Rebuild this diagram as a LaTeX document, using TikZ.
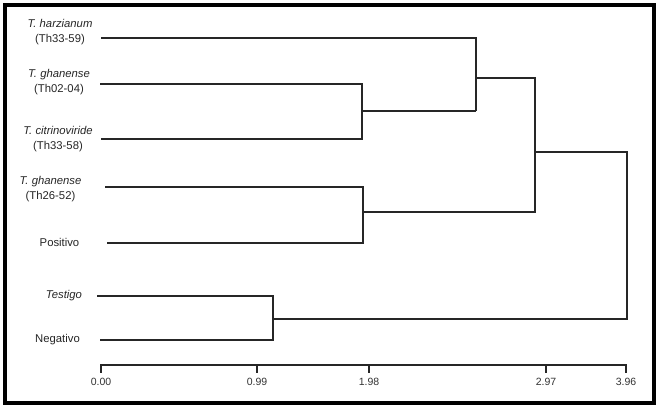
\documentclass[tikz,border=0pt]{standalone}
\usepackage{fontspec}
\setmainfont{Liberation Sans}
\begin{document}
\begin{tikzpicture}[x=1bp,y=-1bp,
  lbl/.style={align=center,inner sep=0pt,font=\fontsize{11.3bp}{15bp}\selectfont,text=black!85},
  ax/.style={inner sep=0pt,font=\fontsize{10.5bp}{12bp}\selectfont,text=black!80},
  br/.style={line width=1.3bp,draw=black!85},
  frame/.style={line width=4bp,draw=black}]
\useasboundingbox (0,0) rectangle (659,408);
\fill[white] (0,0) rectangle (659,408);
\draw[frame] (5.3,5.3) rectangle (653.7,402.5);

% leaf labels
\node[lbl] (l1) at (60,32) {\textit{T. harzianum}\\(Th33-59)};
\node[lbl] (l2) at (59,82.5) {\textit{T. ghanense}\\(Th02-04)};
\node[lbl] (l3) at (58,139) {\textit{T. citrinoviride}\\(Th33-58)};
\node[lbl] (l4) at (50.5,189) {\textit{T. ghanense}\\(Th26-52)};
\node[lbl] (l5) at (59.5,242) {Positivo};
\node[lbl] (l6) at (64,296) {\textit{Testigo}};
\node[lbl] (l7) at (57.5,339.5) {Negativo};

% leaf ends
\coordinate (a1) at (101,38);
\coordinate (a2) at (100,84);
\coordinate (a3) at (101,139);
\coordinate (a4) at (105,187);
\coordinate (a5) at (107,243);
\coordinate (a6) at (97,296);
\coordinate (a7) at (100,340);

% internal nodes
\coordinate (n23) at (362,111);
\coordinate (n123) at (476,78);
\coordinate (n45) at (363,212);
\coordinate (nA) at (535,152);
\coordinate (n67) at (273,319);

% branches
\draw[br] (a2) -| (n23) |- (a3);
\draw[br] (n23) -- (476,111);
\draw[br] (a1) -| (476,111);
\draw[br] (a4) -| (n45) |- (a5);
\draw[br] (n123) -- (535,78) -- (535,212) -- (n45);
\draw[br] (a6) -| (n67) |- (a7);
\draw[br] (nA) -| (627,319) -- (n67);

% axis
\coordinate (x0) at (100,365);
\coordinate (x1) at (627,365);
\draw[br] (x0) -- (x1);
\foreach \x/\t in {101/0.00,257/0.99,369/1.98,546/2.97,626/3.96}{
  \draw[br] (\x,365) -- (\x,373);
  \node[ax] at (\x,381.5) {\t};
}
\end{tikzpicture}
\end{document}
